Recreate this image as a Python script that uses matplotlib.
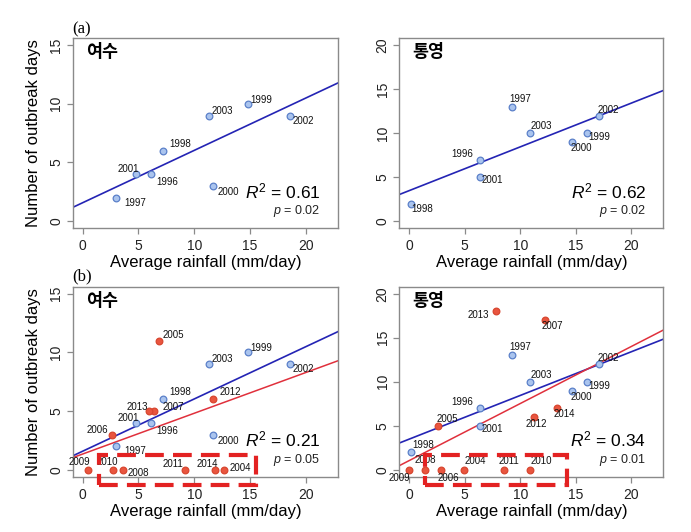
import matplotlib
import matplotlib.pyplot as plt
from matplotlib.patches import Rectangle

matplotlib.use("agg")

plt.rcParams["font.family"] = ["Liberation Sans", "DejaVu Sans"]
plt.rcParams["mathtext.fontset"] = "custom"
plt.rcParams["mathtext.rm"] = "Liberation Sans"
plt.rcParams["mathtext.it"] = "Liberation Sans:italic"

# data
years_old = ["1996", "1997", "1998", "1999", "2000", "2001", "2002", "2003"]
yeosu_rain_old = [6.1, 3.0, 7.2, 14.8, 11.7, 4.8, 18.6, 11.3]
yeosu_days_old = [4, 2, 6, 10, 3, 4, 9, 9]
tongyeong_rain_old = [6.4, 9.3, 0.2, 16.0, 14.7, 6.4, 17.1, 10.9]
tongyeong_days_old = [7, 13, 2, 10, 9, 5, 12, 10]

years_new = ["2004", "2005", "2006", "2007", "2008", "2009", "2010",
             "2011", "2012", "2013", "2014"]
yeosu_rain_new = [12.7, 6.8, 2.6, 6.4, 3.6, 0.5, 2.7, 9.2, 11.7, 5.9, 11.9]
yeosu_days_new = [0, 11, 3, 5, 0, 0, 0, 0, 6, 5, 0]
tongyeong_rain_new = [4.9, 2.6, 2.9, 12.2, 1.4, 0.0, 10.9, 8.5, 11.2, 7.8, 13.3]
tongyeong_days_new = [0, 5, 0, 17, 0, 0, 0, 0, 6, 18, 7]

# regression lines (intercept, slope)
yeosu_fit_old = (1.58, 0.445)
yeosu_fit_all = (1.34, 0.347)
tongyeong_fit_old = (3.47, 0.497)
tongyeong_fit_all = (1.03, 0.649)

stats_a = [("0.61", "0.02"), ("0.62", "0.02")]
stats_b = [("0.21", "0.05"), ("0.34", "0.01")]

# highlight boxes around the zero-outbreak years (x0, x1, y0, y1)
yeosu_box = (1.43, 15.55, -1.27, 1.24)
tongyeong_box = (1.41, 14.24, -1.69, 1.65)

# label offsets in pixels (dx, dy, ha)
off_yeosu_old = {
    "1996": (6, -8, "left"), "1997": (8, -5, "left"), "1998": (6, 7, "left"),
    "1999": (3, 4, "left"), "2000": (4, -6, "left"), "2001": (3, 5, "right"),
    "2002": (3, -5, "left"), "2003": (3, 5, "left"),
}
off_yeosu_new = {
    "2004": (5, 2, "left"), "2005": (4, 6, "left"), "2006": (-4, 5, "right"),
    "2007": (8, 4, "left"), "2008": (5, -3, "left"), "2009": (2, 8, "right"),
    "2010": (5, 8, "right"), "2011": (-2, 6, "right"), "2012": (6, 7, "left"),
    "2013": (0, 4, "right"), "2014": (3, 6, "right"),
}
off_tong_old = {
    "1996": (-7, 6, "right"), "1997": (-3, 8, "left"), "1998": (0, -5, "left"),
    "1999": (1, -4, "left"), "2000": (-2, -6, "left"), "2001": (1, -3, "left"),
    "2002": (-2, 6, "left"), "2003": (0, 7, "left"),
}
off_tong_old_b = dict(off_tong_old, **{"1998": (1, 7, "left")})
off_tong_new = {
    "2004": (1, 9, "left"), "2005": (-1, 7, "left"), "2006": (-4, -8, "left"),
    "2007": (-3, -6, "left"), "2008": (-10, 10, "left"), "2009": (1, -8, "right"),
    "2010": (0, 9, "left"), "2011": (-5, 9, "left"), "2012": (-8, -7, "left"),
    "2013": (-7, -4, "right"), "2014": (-3, -6, "left"),
}

blue_fill, blue_edge, blue_line = "#aac4ee", "#5b80c9", "#2424b4"
red_fill, red_edge, red_line = "#e9553f", "#d8462f", "#e0303c"
frame_grey = "#8a8a8a"


def draw_points(ax, xs, ys, years, offsets, fill, edge):
    ax.plot(xs, ys, "o", ms=4.8, mfc=fill, mec=edge, mew=0.9, zorder=3)
    for x, y, yr in zip(xs, ys, years):
        dx, dy, ha = offsets[yr]
        ax.annotate(yr, (x, y), xytext=(dx, dy), textcoords="offset pixels",
                    ha=ha, va="center", fontsize=7, color="#111111", zorder=5)


def setup_axes(ax, ymax, title, stats, ylabel):
    ax.set_xlim(-0.88, 22.88)
    ax.set_ylim(-0.04 * ymax, 1.04 * ymax)
    ax.set_xticks([0, 5, 10, 15, 20])
    ax.set_yticks(range(0, ymax + 1, 5))
    for s in ax.spines.values():
        s.set_color(frame_grey)
        s.set_linewidth(1.0)
    ax.tick_params(colors=frame_grey, labelcolor="#222222", labelsize=10,
                   length=4, width=0.9)
    ax.tick_params(axis="x", pad=4)
    ax.tick_params(axis="y", pad=3)
    for lab in ax.get_yticklabels():
        lab.set_rotation(90)
        lab.set_va("center")
    ax.set_xlabel("Average rainfall (mm/day)", fontsize=12, labelpad=1.5)
    if ylabel:
        ax.set_ylabel("Number of outbreak days", fontsize=12, labelpad=6)
    ax.text(0.05, 0.925, title, transform=ax.transAxes, fontsize=12.5,
            fontweight="bold", family=["Noto Sans CJK KR", "DejaVu Sans"],
            ha="left", va="center")
    r2, p = stats
    ax.text(0.935, 0.195, r"$R^2$ = " + r2, transform=ax.transAxes,
            fontsize=12.5, ha="right", va="center")
    ax.text(0.935, 0.09, r"$p$ = " + p, transform=ax.transAxes,
            fontsize=9, ha="right", va="center", color="#222222")


def draw_box(ax, box):
    x0, x1, y0, y1 = box
    ax.add_patch(Rectangle((x0, y0), x1 - x0, y1 - y0, fill=False,
                           ec="#e32222", lw=3, ls=(0, (4.5, 2.2)),
                           clip_on=False, zorder=6))


fig = plt.figure(figsize=(6.91, 5.32), dpi=100)
ax1 = fig.add_axes([0.1056, 0.5709, 0.3831, 0.3577])
ax2 = fig.add_axes([0.5779, 0.5709, 0.3821, 0.3577])
ax3 = fig.add_axes([0.1056, 0.1039, 0.3831, 0.3571])
ax4 = fig.add_axes([0.5779, 0.1039, 0.3821, 0.3571])

# (a) 1996-2003
setup_axes(ax1, 15, "여수", stats_a[0], True)
draw_points(ax1, yeosu_rain_old, yeosu_days_old, years_old, off_yeosu_old,
            blue_fill, blue_edge)
ax1.axline((0, yeosu_fit_old[0]), slope=yeosu_fit_old[1], color=blue_line, lw=1.2)

setup_axes(ax2, 20, "통영", stats_a[1], False)
draw_points(ax2, tongyeong_rain_old, tongyeong_days_old, years_old, off_tong_old,
            blue_fill, blue_edge)
ax2.axline((0, tongyeong_fit_old[0]), slope=tongyeong_fit_old[1], color=blue_line, lw=1.2)

# (b) 1996-2014
setup_axes(ax3, 15, "여수", stats_b[0], True)
draw_points(ax3, yeosu_rain_old, yeosu_days_old, years_old, off_yeosu_old,
            blue_fill, blue_edge)
draw_points(ax3, yeosu_rain_new, yeosu_days_new, years_new, off_yeosu_new,
            red_fill, red_edge)
ax3.axline((0, yeosu_fit_old[0]), slope=yeosu_fit_old[1], color=blue_line, lw=1.2)
ax3.axline((0, yeosu_fit_all[0]), slope=yeosu_fit_all[1], color=red_line, lw=1.1)
draw_box(ax3, yeosu_box)

setup_axes(ax4, 20, "통영", stats_b[1], False)
draw_points(ax4, tongyeong_rain_old, tongyeong_days_old, years_old, off_tong_old_b,
            blue_fill, blue_edge)
draw_points(ax4, tongyeong_rain_new, tongyeong_days_new, years_new, off_tong_new,
            red_fill, red_edge)
ax4.axline((0, tongyeong_fit_old[0]), slope=tongyeong_fit_old[1], color=blue_line, lw=1.2)
ax4.axline((0, tongyeong_fit_all[0]), slope=tongyeong_fit_all[1], color=red_line, lw=1.1)
draw_box(ax4, tongyeong_box)

fig.text(72 / 691, 1 - 29 / 532, "(a)", family="Liberation Serif", fontsize=12,
         ha="left", va="center")
fig.text(72 / 691, 1 - 276 / 532, "(b)", family="Liberation Serif", fontsize=12,
         ha="left", va="center")

fig.savefig("out.png", dpi=100)
